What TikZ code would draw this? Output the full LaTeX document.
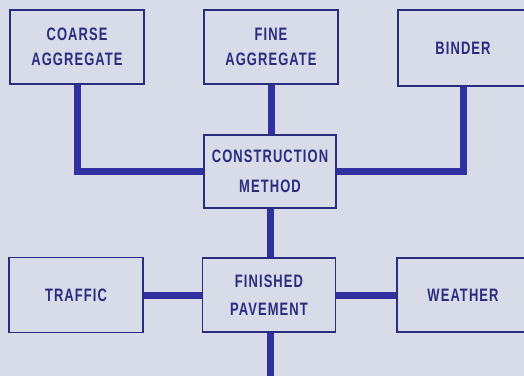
\documentclass[tikz,border=0pt]{standalone}
\usepackage{fontspec}
\setmainfont[FakeStretch=0.72,LetterSpace=6]{Liberation Sans}
\usepackage{xcolor}
\definecolor{paper}{HTML}{D8DCE8}
\definecolor{ink}{HTML}{2B2B80}
\definecolor{wire}{HTML}{3030A0}

\begin{document}
\begin{tikzpicture}[
  x=1pt,y=-1pt,
  font=\bfseries\fontsize{18}{25}\selectfont,
  factor/.style={draw=ink,line width=1.8pt,fill=paper,text=ink,align=center,inner sep=0pt,minimum width=134pt,minimum height=74pt},
  link/.style={wire,line width=7pt,line join=miter}]

  % page
  \useasboundingbox (0,0) rectangle (524,376);
  \clip (0,0) rectangle (524,376);
  \fill[paper] (0,0) rectangle (524,376);

  % materials
  \node[factor] (coarse) at (77,47) {COARSE\\AGGREGATE};
  \node[factor] (fine) at (271,47) {FINE\\AGGREGATE};
  \node[factor,minimum width=130pt,minimum height=76pt] (binder) at (463,48) {BINDER};
  % method and result
  \node[factor,minimum width=132pt,minimum height=73pt] (method) at (270,171.5) {CONSTRUCTION\\[5pt]METHOD};
  \node[factor,minimum width=133pt] (pavement) at (269,295) {FINISHED\\[3pt]PAVEMENT};
  % outside effects
  \node[factor,minimum height=75pt] (traffic) at (76,295) {TRAFFIC};
  \node[factor,minimum width=132pt] (weather) at (463,295) {WEATHER};
  \coordinate (out) at (270,376);

  % materials to method
  \draw[link] (coarse.south) |- (method.west);
  \draw[link] (fine.south) -- (method.north -| fine.south);
  \draw[link] (binder.south) |- (method.east);
  % method to pavement
  \draw[link] (method.south) -- (pavement.north -| method.south);
  \draw[link] (traffic.east) -- (pavement.west);
  \draw[link] (pavement.east) -- (weather.west);
  \draw[link] (pavement.south -| out) -- (out);

\end{tikzpicture}
\end{document}
